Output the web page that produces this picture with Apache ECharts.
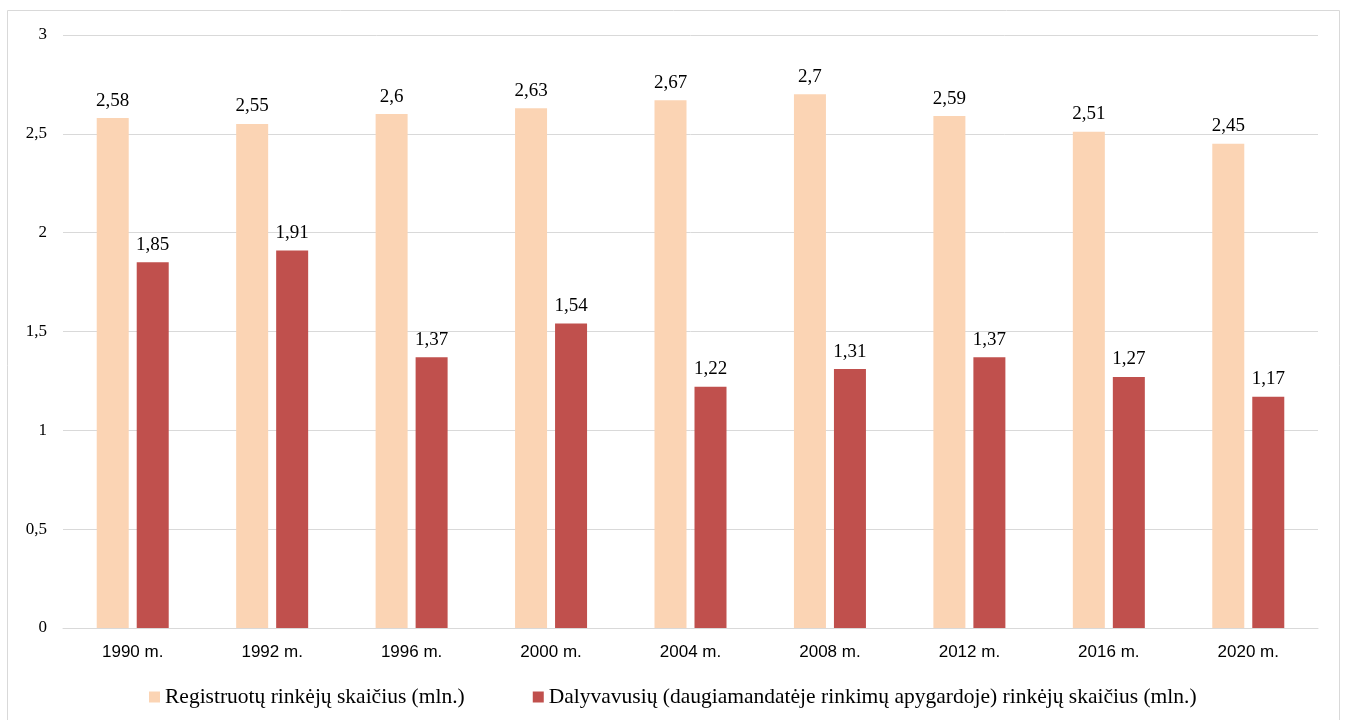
<!DOCTYPE html>
<html>
<head>
<meta charset="utf-8">
<script src="https://cdn.jsdelivr.net/npm/echarts@6/dist/echarts.min.js"></script>
<style>
  html, body { margin: 0; padding: 0; background: #fff; }
  #chart { width: 1346px; height: 720px; }
</style>
</head>
<body>
<div id="chart"></div>
<script>
const years = ['1990 m.', '1992 m.', '1996 m.', '2000 m.', '2004 m.', '2008 m.', '2012 m.', '2016 m.', '2020 m.'];
const registered = [2.58, 2.55, 2.6, 2.63, 2.67, 2.7, 2.59, 2.51, 2.45];
const voted = [1.85, 1.91, 1.37, 1.54, 1.22, 1.31, 1.37, 1.27, 1.17];
const yTicks = [0, 0.5, 1, 1.5, 2, 2.5, 3];

const fmt = v => String(v).replace('.', ',');

const chart = echarts.init(document.getElementById('chart'));

const labelStyle = {
    show: true,
    position: 'top',
    distance: 8,
    fontFamily: 'Liberation Serif',
    fontSize: 19,
    color: '#000',
    formatter: p => fmt(p.value)
};

chart.setOption({
    animation: false,
    graphic: [{
        type: 'rect',
        shape: { x: 7.5, y: 10.5, width: 1332, height: 730 },
        style: { fill: 'none', stroke: '#d9d9d9', lineWidth: 1 }
    }],
    grid: { left: 63, right: 28, top: 35, bottom: 92 },
    legend: {
        bottom: 7,
        left: 144,
        itemWidth: 11,
        itemHeight: 11,
        itemGap: 68,
        icon: 'rect',
        textStyle: { fontFamily: 'Liberation Serif', fontSize: 21.5, color: '#000' }
    },
    xAxis: {
        type: 'category',
        data: years,
        axisLine: { lineStyle: { color: '#d9d9d9', width: 1 } },
        axisTick: { show: false },
        axisLabel: { margin: 16, fontFamily: 'Liberation Sans', fontSize: 17, color: '#000' }
    },
    yAxis: {
        type: 'value',
        min: 0,
        max: 3,
        interval: 0.5,
        axisLine: { show: false },
        axisTick: { show: false },
        splitLine: { lineStyle: { color: '#d9d9d9', width: 1 } },
        axisLabel: {
            margin: 16,
            fontFamily: 'Liberation Serif',
            fontSize: 17,
            color: '#000',
            formatter: v => yTicks.includes(v) ? fmt(v) : ''
        }
    },
    series: [
        {
            name: 'Registruotų rinkėjų skaičius (mln.)',
            type: 'bar',
            data: registered,
            barWidth: 32,
            barGap: '25%',
            itemStyle: { color: '#fbd4b4' },
            label: labelStyle
        },
        {
            name: 'Dalyvavusių (daugiamandatėje rinkimų apygardoje) rinkėjų skaičius (mln.)',
            type: 'bar',
            data: voted,
            barWidth: 32,
            itemStyle: { color: '#c0504d' },
            label: labelStyle
        }
    ]
});
</script>
</body>
</html>
